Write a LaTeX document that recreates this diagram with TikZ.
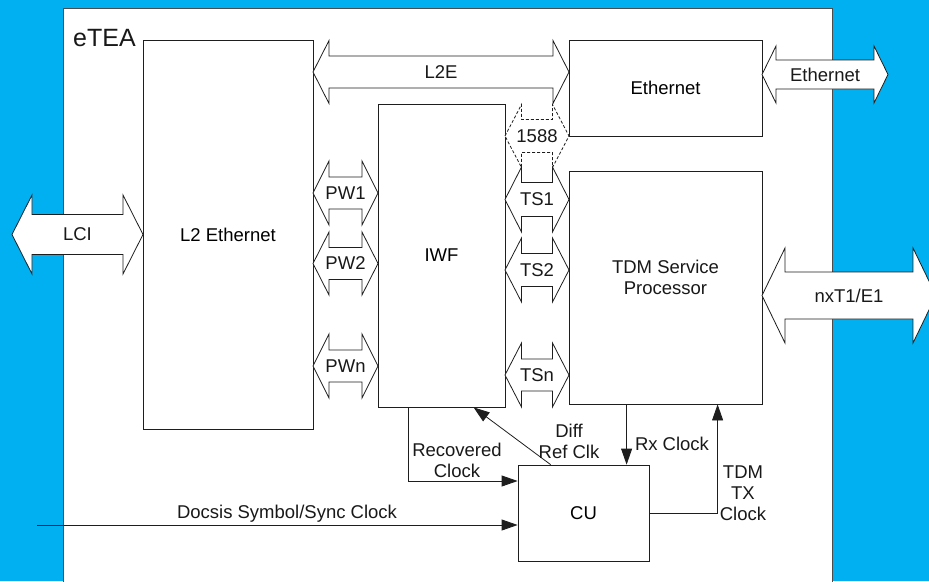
\documentclass[tikz,border=0pt]{standalone}
\usepackage{fontspec}
\setmainfont{Liberation Sans}
\usetikzlibrary{arrows.meta}
\definecolor{bgcyan}{RGB}{0,176,240}
\definecolor{lncol}{RGB}{30,30,30}
\newcommand\dfont{\fontsize{18.5}{21}\selectfont}
\newcommand\blockarr[7][]{%
  \draw[barrow,#1] (#2,#4) -- ({#2+#7},{#4-#5}) -- ({#2+#7},{#4-#6}) -- ({#3-#7},{#4-#6}) -- ({#3-#7},{#4-#5}) -- (#3,#4) -- ({#3-#7},{#4+#5}) -- ({#3-#7},{#4+#6}) -- ({#2+#7},{#4+#6}) -- ({#2+#7},{#4+#5}) -- cycle;}
\begin{document}
\begin{tikzpicture}[x=1pt,y=-1pt,
  box/.style={draw=lncol, line width=0.8pt, fill=white, inner sep=0pt, font=\dfont, align=center},
  lbl/.style={font=\dfont, align=center, inner sep=0pt, text=black!90},
  barrow/.style={draw=lncol, fill=white, line width=0.8pt, line join=miter},
  conn/.style={draw=lncol, line width=0.8pt, -{Triangle[length=16pt,width=11pt]}}]
\clip (0,0) rectangle (929,581);
\fill[bgcyan] (0,0) rectangle (929,581);
\draw[fill=white, draw=black!70, line width=0.5pt] (63,8) rectangle (832,590);
\node[lbl, font=\fontsize{25}{27}\selectfont] (etea) at (104.5,38) {eTEA};
% boxes
\node[box, minimum width=170pt, minimum height=389pt] (l2) at (228,234.5) {L2 Ethernet};
\node[box, minimum width=193pt, minimum height=96pt] (eth) at (665.5,88) {Ethernet};
\node[box, minimum width=127pt, minimum height=303pt] (iwf) at (441.5,255.5) {IWF};
\node[box, minimum width=193pt, minimum height=233pt] (tdm) at (665.5,287.5) {};
\node[lbl] (tdmlbl) at (665.5,277) {TDM Service\\Processor};
\node[box, minimum width=131pt, minimum height=96pt] (cu) at (583.5,513) {CU};
% block arrows
\blockarr{313}{569}{72}{31.5}{16}{16}
\node[lbl] (l2e) at (441,72) {L2E};
\blockarr[dash pattern=on 3pt off 2pt]{505}{569}{136}{31.5}{16.5}{16.5}
\node[lbl] (p1588) at (537,136) {1588};
\blockarr{505}{569}{199.5}{32.5}{17}{16.5}
\node[lbl] (ts1) at (537,199.5) {TS1};
\blockarr{505}{569}{270}{32}{16.5}{16.5}
\node[lbl] (ts2) at (537,270) {TS2};
\blockarr{505}{569}{375}{32}{16}{16.5}
\node[lbl] (tsn) at (537,375) {TSn};
\blockarr{313}{378}{193}{32}{16}{16}
\node[lbl] (pw1) at (345.5,193) {PW1};
\blockarr{313}{378}{263.5}{31.5}{16}{16}
\node[lbl] (pw2) at (345.5,263.5) {PW2};
\blockarr{313}{378}{366}{32}{16}{16}
\node[lbl] (pwn) at (345.5,366) {PWn};
\blockarr{12}{143}{234.5}{39.5}{20}{20}
\node[lbl] (lci) at (77.5,234.5) {LCI};
\blockarr{762}{888}{74.5}{28.5}{14.5}{14}
\node[lbl] (ethx) at (825,74.5) {Ethernet};
\blockarr{762}{936}{295.5}{47.5}{23.5}{23}
\node[lbl] (nxt) at (849,295.5) {nxT1/E1};
% clock connectors
\draw[conn] ([xshift=31pt]iwf.south west) |- ([yshift=32pt]cu.west);
\draw[conn] ([xshift=33pt]cu.north west) -- ([xshift=96pt]iwf.south west);
\coordinate (rxs) at ([xshift=58pt]tdm.south west);
\draw[conn] (rxs) -- (rxs |- cu.north);
\coordinate (txe) at ([xshift=149pt]tdm.south west);
\draw[conn] (cu.east) -| (txe);
\coordinate (dstart) at (37,525);
\draw[conn] (dstart) -- (dstart -| cu.west);
% labels
\node[lbl] (rec) at (457,460) {Recovered\\Clock};
\node[lbl] (diff) at (569,441.5) {Diff\\Ref Clk};
\node[lbl] (rx) at (672,444) {Rx Clock};
\node[lbl] (tx) at (743,493) {TDM\\TX\\Clock};
\node[lbl] (docsis) at (287,514) {Docsis Symbol/Sync Clock};
\end{tikzpicture}
\end{document}
